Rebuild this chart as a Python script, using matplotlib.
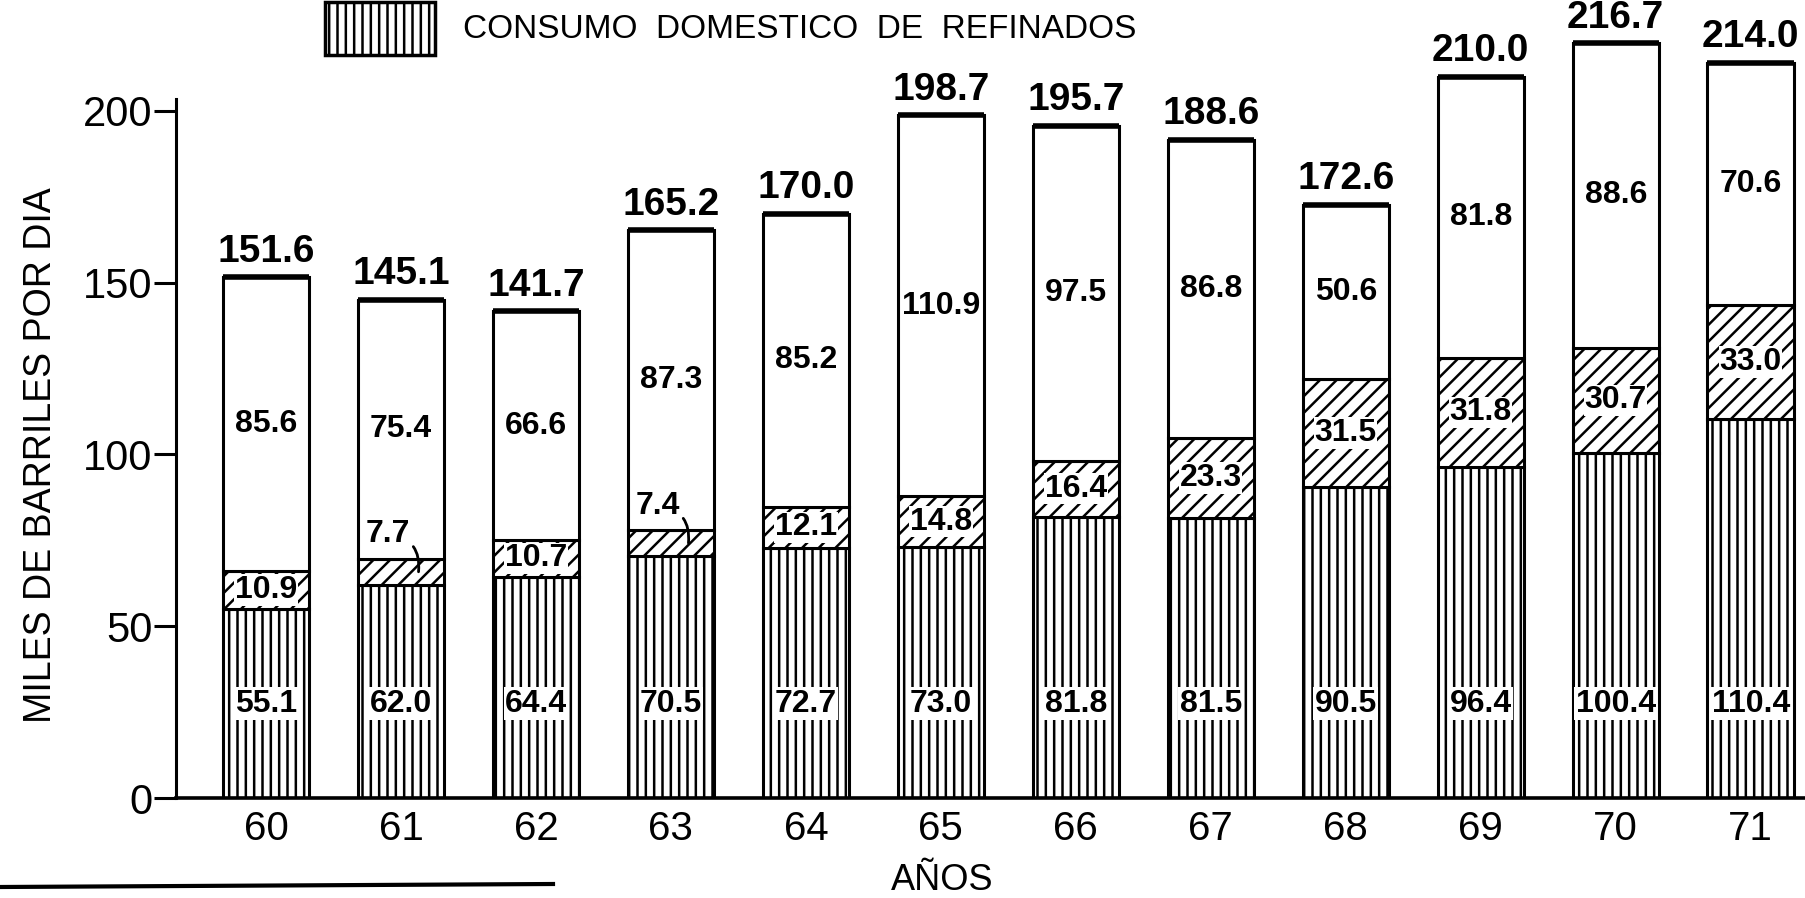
import numpy as np
import matplotlib
matplotlib.use('Agg')
import matplotlib.pyplot as plt
from matplotlib.patches import Rectangle
from matplotlib.lines import Line2D

# datos (miles de barriles por dia)
years = ['60', '61', '62', '63', '64', '65', '66', '67', '68', '69', '70', '71']
domestico = [55.1, 62.0, 64.4, 70.5, 72.7, 73.0, 81.8, 81.5, 90.5, 96.4, 100.4, 110.4]
intermedio = [10.9, 7.7, 10.7, 7.4, 12.1, 14.8, 16.4, 23.3, 31.5, 31.8, 30.7, 33.0]
resto = [85.6, 75.4, 66.6, 87.3, 85.2, 110.9, 97.5, 86.8, 50.6, 81.8, 88.6, 70.6]
totales = [151.6, 145.1, 141.7, 165.2, 170.0, 198.7, 195.7, 188.6, 172.6, 210.0, 216.7, 214.0]
yticks = [0, 50, 100, 150, 200]

font = ['Liberation Sans', 'DejaVu Sans']
plt.rcParams['font.family'] = font
plt.rcParams['hatch.linewidth'] = 1.8
plt.rcParams['hatch.color'] = 'black'

W, H = 1806, 898
fig = plt.figure(figsize=(W / 100, H / 100), dpi=100)
ax = fig.add_axes([176 / W, 100 / H, 1 - 176 / W, 773 / H])

x = np.arange(len(years))
w = 0.64
dom = np.array(domestico)
mid = np.array(intermedio)
top = np.array(resto)

ax.bar(x, dom, w, color='white', edgecolor='black', hatch='||', lw=2.2)
ax.bar(x, mid, w, bottom=dom, color='white', edgecolor='black', hatch='//', lw=2.2)
ax.bar(x, top, w, bottom=dom + mid, color='white', edgecolor='black', lw=2.2)
ax.hlines(dom + mid + top, x - w / 2, x + w / 2, colors='black', lw=4)

num = dict(fontsize=23, weight='bold')
for i in range(len(years)):
    ytop = dom[i] + mid[i] + top[i]
    # total arriba de la barra
    ax.text(x[i], ytop + 2.2, f'{totales[i]:.1f}', ha='center', va='bottom',
            fontsize=28, weight='bold')
    # consumo domestico
    ax.text(x[i], 27.5, f'{domestico[i]:.1f}', ha='center', va='center',
            bbox=dict(facecolor='white', edgecolor='none', pad=1), **num)
    # segmento intermedio
    if mid[i] < 9:
        ax.annotate(f'{intermedio[i]:.1f}', xy=(x[i] + 0.13, dom[i] + mid[i] * 0.5),
                    xytext=(x[i] - 0.1, dom[i] + mid[i] + 7),
                    ha='center', va='center',
                    arrowprops=dict(arrowstyle='-', lw=2, color='black',
                                    connectionstyle='arc3,rad=-0.5',
                                    shrinkA=1, shrinkB=0), **num)
    else:
        ax.text(x[i], dom[i] + mid[i] / 2, f'{intermedio[i]:.1f}', ha='center', va='center',
                bbox=dict(facecolor='white', edgecolor='none', pad=0.5), **num)
    # segmento superior
    ax.text(x[i], dom[i] + mid[i] + top[i] / 2, f'{resto[i]:.1f}', ha='center', va='center',
            **num)

ax.set_xlim(-0.667, 11.41)
ax.set_ylim(0, 225)
ax.set_xticks(x)
ax.set_xticklabels(years, fontsize=29)
ax.set_yticks(yticks)
ax.set_yticklabels([str(t) for t in yticks], fontsize=30)
ax.tick_params(axis='x', length=0, pad=9)
ax.tick_params(axis='y', length=16, width=2.2, pad=1)

for s in ['top', 'right']:
    ax.spines[s].set_visible(False)
ax.spines['left'].set_linewidth(2.2)
ax.spines['left'].set_bounds(0, 203.5)
ax.spines['bottom'].set_linewidth(2.6)

fig.text(41 / W, 1 - 455 / H, 'MILES DE BARRILES POR DIA', rotation=90,
         ha='center', va='center', fontsize=27)
fig.text(942 / W, 1 - 880 / H, 'AÑOS', ha='center', va='center', fontsize=26)

# leyenda
fig.add_artist(Rectangle((325 / W, 1 - 55 / H), 110 / W, 53 / H,
                         transform=fig.transFigure, facecolor='white',
                         edgecolor='black', hatch='||', lw=2.5))
fig.text(463 / W, 1 - 30 / H, 'CONSUMO  DOMESTICO  DE  REFINADOS', ha='left', va='center',
         fontsize=24)

# linea del borde de la pagina escaneada
fig.add_artist(Line2D([0, 553 / W], [1 - 887 / H, 1 - 884 / H],
                      transform=fig.transFigure, color='black', lw=3))

fig.savefig('out.png', dpi=100)
